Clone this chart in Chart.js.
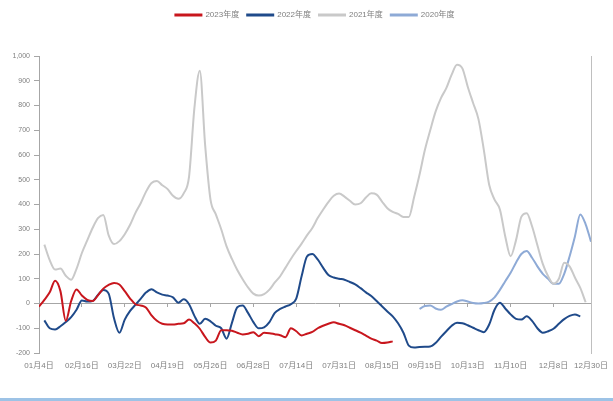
<!DOCTYPE html>
<html>
<head>
<meta charset="utf-8">
<script src="https://cdn.jsdelivr.net/npm/chart.js@4.4.1/dist/chart.umd.min.js"></script>
<style>
  html, body { margin: 0; padding: 0; background: #fff; }
  #wrap { position: relative; width: 613px; height: 401px; }
  #rule { position: absolute; left: 0; top: 398px; width: 613px; height: 3px; background: #9dc3e6; }
</style>
</head>
<body>
<div id="wrap"><canvas id="chart"></canvas><div id="rule"></div></div>
<script>
// x axis labels and the point index each one sits on
const tickLabels = ["01月4日", "02月16日", "03月22日", "04月19日", "05月26日", "06月28日", "07月14日",
  "07月31日", "08月15日", "09月15日", "10月13日", "11月10日", "12月8日", "12月30日"];
const tickPoints = [0, 8, 16, 24, 32, 40, 48, 56, 64, 72, 80, 88, 96, 103];

// values, one per point
const y2023 = [
  -13, 15, 45, 92, 50, -70, 10, 57,
  32, 15, 10, 33, 60, 75, 83, 77,
  50, 20, -3, -8, -17, -48, -70, -82,
  -85, -85, -82, -80, -65, -80, -102, -135,
  -158, -150, -108, -108, -110, -118, -125, -122,
  -116, -132, -118, -120, -124, -128, -136, -100,
  -112, -129, -122, -115, -100, -90, -82, -76,
  -82, -88, -98, -108, -118, -130, -142, -150,
  -160, -158, -153
];

const y2022 = [
  null, -68, -100, -105, -92, -75, -55, -25,
  12, 8, 10, 35, 55, 40, -60, -118,
  -65, -30, -5, 20, 45, 58, 45, 36,
  32, 25, 3, 17, -3, -50, -82, -62,
  -72, -90, -100, -142, -78, -15, -8, -38,
  -75, -100, -96, -75, -38, -22, -12, -3,
  20, 110, 190, 200, 178, 145, 115, 105,
  100, 96, 87, 77, 62, 45, 30, 10,
  -11, -32, -52, -80, -118, -170, -178, -176,
  -175, -174, -160, -135, -112, -90, -78, -80,
  -88, -98, -108, -116, -85, -25, 3, -20,
  -44, -62, -65, -52, -70, -100, -118, -112,
  -102, -82, -63, -50, -44, -52
];

const y2021 = [
  null, 238, 175, 137, 141, 112, 96, 140,
  204, 255, 305, 345, 358, 275, 240, 252,
  280, 318, 366, 406, 453, 487, 495, 478,
  462, 435, 423, 445, 513, 790, 940, 640,
  420, 360, 300, 231, 180, 135, 98, 65,
  40, 32, 38, 56, 85, 110, 145, 180,
  212, 242, 275, 305, 345, 379, 410, 435,
  444, 432, 415, 400, 405, 428, 445, 440,
  412, 385, 370, 362, 350, 350, 430, 520,
  620, 700, 775, 830, 870, 925, 965, 950,
  876, 810, 745, 621, 480, 420, 380, 271,
  191, 255, 350, 365, 312, 235, 160, 110,
  80, 100, 165, 150, 105, 63, 5
];

const y2020 = [
  ...Array(71).fill(null),
  -22, -10, -8, -20, -25, -13, -2, 8, 13,
  8, 2, 0, 2, 8, 25, 55, 90,
  124, 165, 200, 212, 185, 150, 120, 100,
  80, 80, 120, 190, 271, 360, 320, 250
];

const toPoints = arr => arr.map((y, i) => ({ x: i, y }));

const FONT = '"Liberation Sans", "Noto Sans CJK SC", sans-serif';
const textGray = "#7f7f7f";
const axisGray = "#a6a6a6";

const setTicks = scale => {
  scale.ticks = tickPoints.map(v => ({ value: v }));
};

// leave room between the legend and the plot
const legendSpace = {
  id: "legendSpace",
  beforeInit(chart) {
    const fit = chart.legend.fit;
    chart.legend.fit = function () {
      fit.call(this);
      this.height = 53;
    };
  },
};

const line = (label, data, color) => ({
  label,
  data: toPoints(data),
  borderColor: color,
  backgroundColor: color,
  borderWidth: 2,
  pointRadius: 0,
  cubicInterpolationMode: "monotone",
  fill: false,
});

new Chart(document.getElementById("chart"), {
  type: "line",
  data: {
    datasets: [
      line("2023年度", y2023, "#c8161d"),
      line("2022年度", y2022, "#1f4a8a"),
      line("2021年度", y2021, "#c9c9c9"),
      line("2020年度", y2020, "#8eaad6"),
    ],
  },
  options: {
    responsive: true,
    maintainAspectRatio: false,
    animation: false,
    layout: { padding: { top: 3, right: 14, bottom: 28, left: 0 } },
    plugins: {
      legend: {
        fullSize: false,
        labels: {
          boxWidth: 26,
          boxHeight: 1,
          padding: 8,
          color: textGray,
          font: { family: FONT, size: 8 },
        },
      },
      tooltip: { enabled: false },
    },
    scales: {
      x: {
        type: "linear",
        min: 0,
        max: 103,
        afterBuildTicks: setTicks,
        afterFit: s => {
          s.height = 20;
          s.paddingLeft = 0;
          s.paddingRight = 0;
        },
        grid: { display: false, drawTicks: false },
        border: { display: false },
        ticks: {
          autoSkip: false,
          maxRotation: 0,
          padding: 8,
          color: textGray,
          font: { family: FONT, size: 8 },
          callback: (v, i) => tickLabels[i],
        },
      },
      x2: {
        type: "linear",
        axis: "x",
        position: { y: 0 },
        min: 0,
        max: 103,
        afterBuildTicks: setTicks,
        grid: { drawOnChartArea: false, tickLength: 3, color: axisGray },
        border: { color: axisGray },
        ticks: { display: false },
      },
      y: {
        min: -200,
        max: 1000,
        afterFit: s => {
          s.width = 39;
        },
        grid: { drawOnChartArea: false, tickLength: 5, color: axisGray },
        border: { color: axisGray },
        ticks: {
          stepSize: 100,
          padding: 4,
          color: textGray,
          font: { family: FONT, size: 7 },
        },
      },
      y2: {
        position: "right",
        grid: { display: false },
        ticks: { display: false },
        border: { color: "#bfbfbf" },
      },
    },
  },
  plugins: [legendSpace],
});
</script>
</body>
</html>
